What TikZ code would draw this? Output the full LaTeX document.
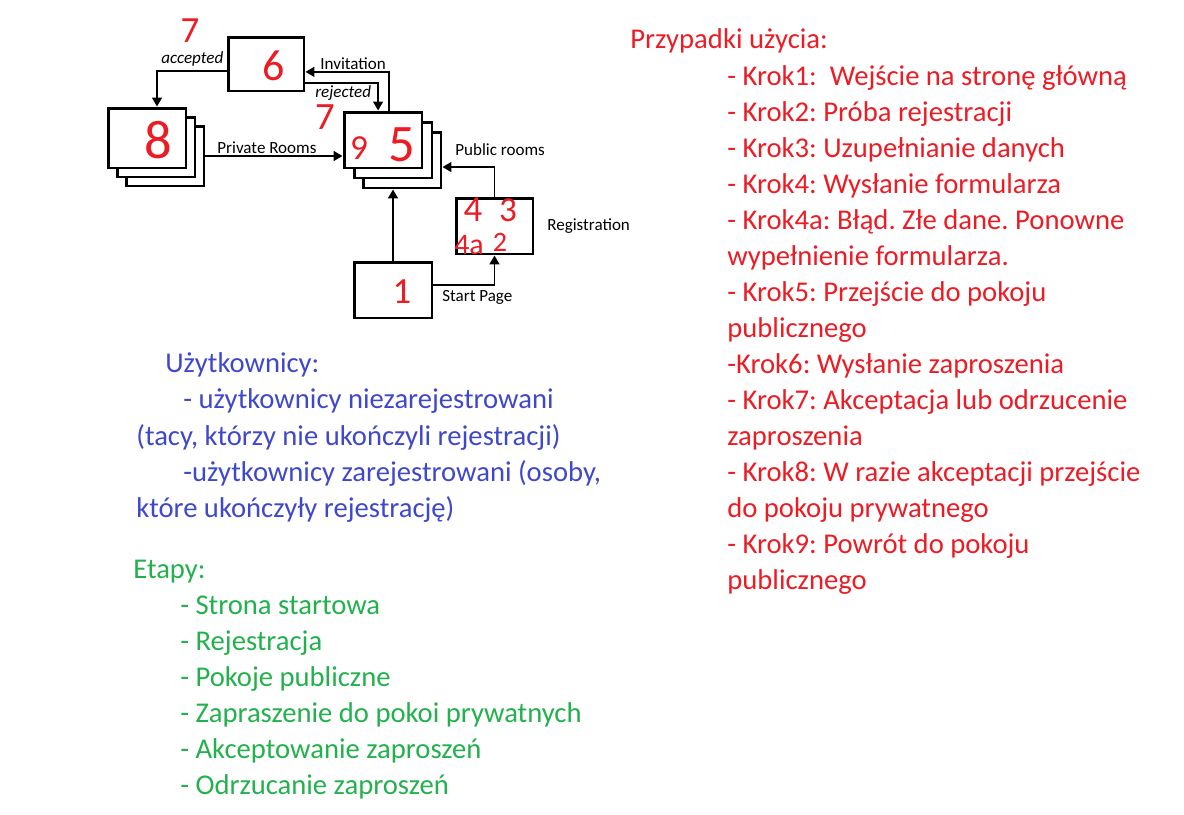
\documentclass[tikz,border=0pt]{standalone}
\usepackage{fontspec}
\setmainfont{Carlito}
\usetikzlibrary{arrows.meta, positioning, calc}
\definecolor{paintred}{RGB}{237,28,36}
\definecolor{paintblue}{RGB}{63,72,204}
\definecolor{paintgreen}{RGB}{34,177,76}
\frenchspacing

\begin{document}
\begin{tikzpicture}[x=0.02cm, y=-0.02cm,
        screen/.style    = {rectangle, draw, fill=white, line width=1.7pt, minimum width=1.56cm, minimum height=1.12cm, inner sep=0pt},
        link/.style      = {-{Triangle[length=5pt, width=5.5pt]}, line width=1.1pt},
        flowlabel/.style = {anchor=base west, inner sep=0pt, font=\fontsize{9.7}{11}\selectfont},
        hand/.style      = {text=paintred, inner sep=0pt, font=\fontsize{#1}{#1}\selectfont},
        hand/.default    = 22,
        listline/.style  = {anchor=base west, inner sep=0pt, font=\fontsize{16.3}{20}\selectfont}
    ]
    \useasboundingbox (0,0) rectangle (1184,815);

    % --- SCREENS ---
    \node[screen, minimum width=1.52cm, minimum height=1.08cm] (invite) at (266,64) {};

    \node[screen, minimum height=1.2cm] (priv3) at (165,156) {};
    \node[screen, minimum height=1.2cm] (priv2) at (156,147) {};
    \node[screen, minimum height=1.2cm] (priv)  at (147,138) {};

    \node[screen] (pub3) at (402,160) {};
    \node[screen] (pub2) at (393,150) {};
    \node[screen] (pub)  at (383,140) {};

    \node[screen, minimum width=1.54cm] (reg) at (494.5,226) {};
    \node[screen] (start) at (393,290) {};

    % --- CONNECTORS ---
    \draw[link] (start.north) -- (start.north |- pub3.south);
    \draw[link] ([yshift=3pt]start.east) -| (reg.south);
    \draw[link] (reg.north) |- ([yshift=-4pt]pub3.east);
    \draw[link] (priv3.east) -- (priv3.east -| pub.west);
    \draw[link] ([xshift=3.4pt]pub.north) |- ([yshift=-4.5pt]invite.east);
    \draw[link] ([yshift=-10.8pt]invite.east) -| ([xshift=-2.8pt]pub.north);
    \draw[link] ([yshift=-4pt]invite.west) -| ([xshift=5.7pt]priv.north);

    % --- FLOW LABELS ---
    \node[flowlabel, font=\fontsize{9.7}{11}\selectfont\itshape] (l_acc) at (161,63) {accepted};
    \node[flowlabel] (l_inv) at (320,69) {Invitation};
    \node[flowlabel, font=\fontsize{9.7}{11}\selectfont\itshape] (l_rej) at (315,97) {rejected};
    \node[flowlabel] (l_priv) at (217,153) {Private Rooms};
    \node[flowlabel] (l_pub) at (455,155) {Public rooms};
    \node[flowlabel] (l_reg) at (547,230) {Registration};
    \node[flowlabel] (l_start) at (442,301) {Start Page};

    % --- HANDWRITTEN STEP NUMBERS ---
    \node[hand=21] (h7a) at (190,31) {7};
    \node[hand=25] (h6)  at (274,66) {6};
    \node[hand=22] (h7b) at (325,117) {7};
    \node[hand=31] (h8)  at (158,140) {8};
    \node[hand=20] (h9)  at (359,148) {9};
    \node[hand=30] (h5)  at (402,145) {5};
    \node[hand=21] (h4)  at (473,210) {4};
    \node[hand=20] (h3)  at (508,210) {3};
    \node[hand=17] (h4a) at (469,245) {4a};
    \node[hand=16] (h2)  at (500,242) {2};
    \node[hand=21] (h1)  at (402,292) {1};

    % --- USE CASES ---
    \node[listline, text=paintred] (uc_title) at (630,48) {Przypadki użycia:};
    \foreach \txt [count=\i from 0] in {
        {- Krok1:\ \ Wejście na stronę główną},
        {- Krok2: Próba rejestracji},
        {- Krok3: Uzupełnianie danych},
        {- Krok4: Wysłanie formularza},
        {- Krok4a: Błąd. Złe dane. Ponowne},
        {wypełnienie formularza.},
        {- Krok5: Przejście do pokoju},
        {publicznego},
        {-Krok6: Wysłanie zaproszenia},
        {- Krok7: Akceptacja lub odrzucenie},
        {zaproszenia},
        {- Krok8: W razie akceptacji przejście},
        {do pokoju prywatnego},
        {- Krok9: Powrót do pokoju},
        {publicznego}}
        \node[listline, text=paintred] (uc\i) at (727,85+36*\i) {\txt};

    % --- USERS ---
    \foreach \x/\y/\txt [count=\i] in {
        165/372/{Użytkownicy:},
        183/408/{- użytkownicy niezarejestrowani},
        136/445/{(tacy, którzy nie ukończyli rejestracji)},
        183/481/{-użytkownicy zarejestrowani (osoby,},
        136/517/{które ukończyły rejestrację)}}
        \node[listline, text=paintblue] (usr\i) at (\x,\y) {\txt};

    % --- STAGES ---
    \node[listline, text=paintgreen] (st_title) at (133,578) {Etapy:};
    \foreach \txt [count=\i from 0] in {
        {- Strona startowa},
        {- Rejestracja},
        {- Pokoje publiczne},
        {- Zapraszenie do pokoi prywatnych},
        {- Akceptowanie zaproszeń},
        {- Odrzucanie zaproszeń}}
        \node[listline, text=paintgreen] (st\i) at (180,614+36*\i) {\txt};

\end{tikzpicture}
\end{document}
